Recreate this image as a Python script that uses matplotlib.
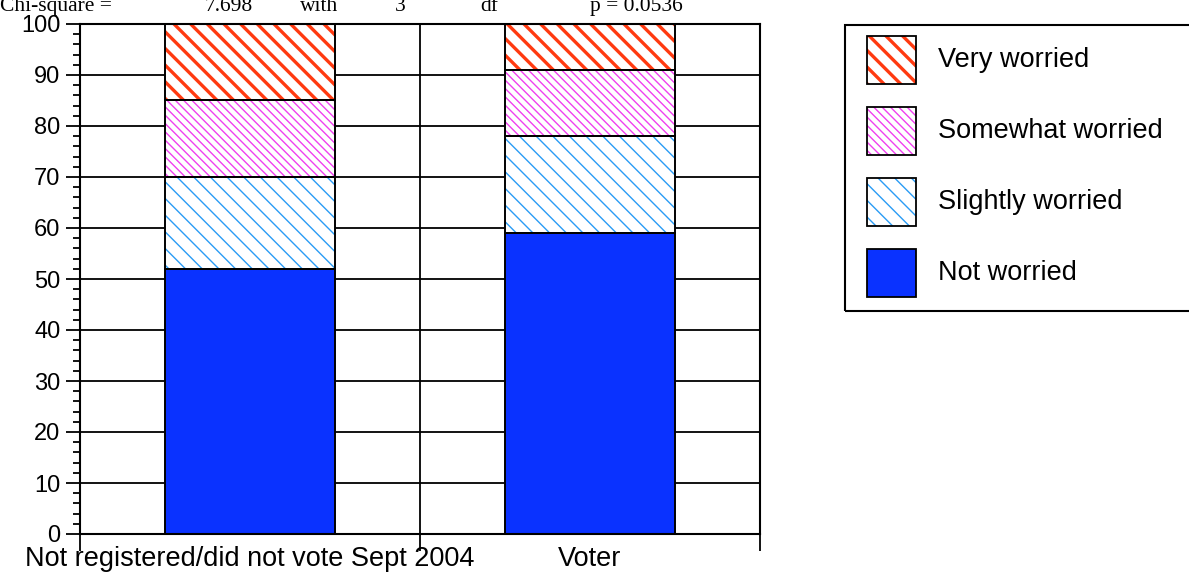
import matplotlib
matplotlib.use("Agg")
import matplotlib.pyplot as plt
from matplotlib.patches import Rectangle
from matplotlib.ticker import MultipleLocator, FixedLocator

# data
groups = ["Not registered/did not vote Sept 2004", "Voter"]
levels = ["Not worried", "Slightly worried", "Somewhat worried", "Very worried"]
not_worried = [52, 59]
slightly_worried = [18, 19]
somewhat_worried = [15, 13]
very_worried = [15, 9]
yticks = [0, 10, 20, 30, 40, 50, 60, 70, 80, 90, 100]
title_parts = ["Chi-square =", "7.698", "with", "3", "df", "p = 0.0536"]

series = [not_worried, slightly_worried, somewhat_worried, very_worried]
styles = [
    dict(face="#0a32ff", hatch=None, hcol="#0a32ff", hlw=1.0),
    dict(face="white", hatch="\\\\", hcol="#2a9cf5", hlw=1.0),
    dict(face="white", hatch="\\\\\\\\", hcol="#f040f0", hlw=1.0),
    dict(face="white", hatch="\\\\", hcol="#ff3a10", hlw=2.4),
]

W, H = 1189, 578
fig = plt.figure(figsize=(W / 100, H / 100), dpi=100)
ax = fig.add_axes([80 / W, (H - 534) / H, 680 / W, 510 / H])

x = list(range(len(groups)))
bottom = [0] * len(groups)
for vals, st in zip(series, styles):
    plt.rcParams["hatch.linewidth"] = st["hlw"]
    ax.bar(x, vals, width=0.5, bottom=bottom, color=st["face"],
           edgecolor=st["hcol"], hatch=st["hatch"], linewidth=0, zorder=2)
    ax.bar(x, vals, width=0.5, bottom=bottom, fill=False,
           edgecolor="black", linewidth=1.4, zorder=3)
    bottom = [b + v for b, v in zip(bottom, vals)]

ax.set_xlim(-0.5, len(groups) - 0.5)
ax.set_ylim(0, 100)

# grid: horizontal at every 10, vertical at category boundaries
for y in yticks[1:-1]:
    ax.axhline(y, color="black", linewidth=1.3, zorder=1)
for b in range(1, len(groups)):
    ax.axvline(b - 0.5, color="black", linewidth=1.3, zorder=1)

for s in ax.spines.values():
    s.set_linewidth(1.5)

ax.yaxis.set_major_locator(FixedLocator(yticks))
ax.yaxis.set_minor_locator(MultipleLocator(2))
ax.tick_params(axis="y", which="major", length=10, width=1.3, labelsize=17, pad=4)
ax.tick_params(axis="y", which="minor", length=5, width=1.3)
for lab in ax.get_yticklabels():
    lab.set_fontfamily("Liberation Sans")

# bottom: ticks at boundaries, labels at bar centres
ax.xaxis.set_major_locator(FixedLocator([i - 0.5 for i in range(len(groups) + 1)]))
ax.xaxis.set_minor_locator(FixedLocator(x))
ax.set_xticklabels([""] * (len(groups) + 1))
ax.set_xticklabels(groups, minor=True, fontsize=19.5, fontfamily="Liberation Sans")
ax.tick_params(axis="x", which="major", length=12, width=1.3)
ax.tick_params(axis="x", which="minor", length=0, pad=9)

# title line, clipped at the top of the image like the reference
title_x = [0, 205, 300, 395, 480, 590]
for tx, t in zip(title_x, title_parts):
    fig.text(tx / W, 1 - 11 / H, t, fontsize=15.5, fontfamily="Liberation Serif",
             va="baseline", ha="left")

# legend drawn by hand in figure pixels
fig.add_artist(Rectangle((845 / W, 1 - 311 / H), 360 / W, 286 / H,
                         transform=fig.transFigure, fill=False,
                         edgecolor="black", linewidth=1.5))
centers = [60, 131, 202, 273]
order = list(range(len(levels)))[::-1]
for cy, i in zip(centers, order):
    st = styles[i]
    plt.rcParams["hatch.linewidth"] = st["hlw"]
    r = (867 / W, 1 - (cy + 24) / H)
    fig.add_artist(Rectangle(r, 49 / W, 48 / H, transform=fig.transFigure,
                             facecolor=st["face"], edgecolor=st["hcol"],
                             hatch=st["hatch"], linewidth=0))
    fig.add_artist(Rectangle(r, 49 / W, 48 / H, transform=fig.transFigure,
                             fill=False, edgecolor="black", linewidth=1.3))
    fig.text(938 / W, 1 - cy / H, levels[i], fontsize=19.5,
             fontfamily="Liberation Sans", va="center", ha="left")

fig.savefig("out.png", dpi=100)
